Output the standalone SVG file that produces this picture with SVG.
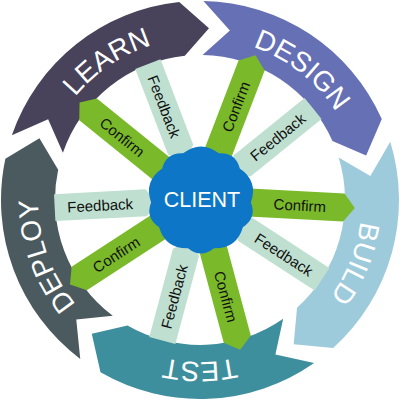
<svg xmlns="http://www.w3.org/2000/svg" width="400" height="401" viewBox="0 0 400 401">
<defs>
<style>
.ring-text{font-family:"Liberation Sans",Arial,sans-serif;font-size:28px;fill:#ffffff;}
.lbl{font-family:"Liberation Sans",Arial,sans-serif;font-size:15px;fill:#111111;text-anchor:middle;}
.confirm{fill:#7ab929;}
.feedback{fill:#bfe0d0;}
</style>
<path id="ringPath" d="M362,200 A162,162 0 1 1 38,200 A162,162 0 1 1 362,200 A162,162 0 1 1 38,200 A162,162 0 1 1 362,200" fill="none"/>
</defs>
<rect width="400" height="401" fill="#ffffff"/>

<g id="learn">
<path d="M11.84,135.21 A199,199 0 0 1 179.20,2.09 L209.00,28.24 L184.84,55.79 A145,145 0 0 0 62.90,152.79 L48.13,119.25 Z" fill="#48435b"/>
<text class="ring-text"><textPath href="#ringPath" startOffset="667.3" text-anchor="middle">LEARN</textPath></text>
</g>
<g id="design">
<path d="M203.47,1.03 A199,199 0 0 1 381.80,119.06 L366.14,155.48 L332.46,141.02 A145,145 0 0 0 202.53,55.02 L229.87,30.61 Z" fill="#6670b5"/>
<text class="ring-text"><textPath href="#ringPath" startOffset="870.8" text-anchor="middle">DESIGN</textPath></text>
</g>
<g id="build">
<path d="M390.30,141.82 A199,199 0 0 1 333.16,347.88 L293.68,344.25 L297.02,307.76 A145,145 0 0 0 338.66,157.61 L370.33,176.06 Z" fill="#9ecbdb"/>
<text class="ring-text"><textPath href="#ringPath" startOffset="1080.1" text-anchor="middle">BUILD</textPath></text>
</g>
<g id="test">
<path d="M314.14,363.01 A199,199 0 0 1 100.50,372.34 L91.76,333.67 L127.50,325.57 A145,145 0 0 0 283.17,318.78 L275.40,354.59 Z" fill="#3e8f9d"/>
<text class="ring-text"><textPath href="#ringPath" startOffset="254.5" text-anchor="middle">TEST</textPath></text>
</g>
<g id="deploy">
<path d="M80.24,358.93 A199,199 0 0 1 5.35,158.63 L39.42,138.36 L58.17,169.85 A145,145 0 0 0 112.74,315.80 L76.27,319.48 Z" fill="#4a5a5f"/>
<text class="ring-text"><textPath href="#ringPath" startOffset="452.4" text-anchor="middle">DEPLOY</textPath></text>
</g>

<g id="connectors">
<g transform="rotate(33 200 200)"><polygon class="feedback" points="242,200 254,186.5 345.5,186.5 345.5,213.5 254,213.5"/><text class="lbl" x="300" y="205.5">Feedback</text></g>
<g transform="rotate(105 200 200)"><polygon class="feedback" points="242,200 254,186.5 345.5,186.5 345.5,213.5 254,213.5"/><text class="lbl" x="300" y="205.5" transform="rotate(180 300 200)">Feedback</text></g>
<g transform="rotate(177 200 200)"><polygon class="feedback" points="242,200 254,186.5 345.5,186.5 345.5,213.5 254,213.5"/><text class="lbl" x="300" y="205.5" transform="rotate(180 300 200)">Feedback</text></g>
<g transform="rotate(249 200 200)"><polygon class="feedback" points="242,200 254,186.5 345.5,186.5 345.5,213.5 254,213.5"/><text class="lbl" x="300" y="205.5" transform="rotate(180 300 200)">Feedback</text></g>
<g transform="rotate(321 200 200)"><polygon class="feedback" points="242,200 254,186.5 345.5,186.5 345.5,213.5 254,213.5"/><text class="lbl" x="300" y="205.5">Feedback</text></g>
<g transform="rotate(3 200 200)"><polygon class="confirm" points="235,186 344,186 355,200 344,214 235,214"/><text class="lbl" x="300" y="205.5">Confirm</text></g>
<g transform="rotate(75 200 200)"><polygon class="confirm" points="235,186 344,186 355,200 344,214 235,214"/><text class="lbl" x="300" y="205.5">Confirm</text></g>
<g transform="rotate(147 200 200)"><polygon class="confirm" points="235,186 344,186 355,200 344,214 235,214"/><text class="lbl" x="300" y="205.5" transform="rotate(180 300 200)">Confirm</text></g>
<g transform="rotate(219 200 200)"><polygon class="confirm" points="235,186 344,186 355,200 344,214 235,214"/><text class="lbl" x="300" y="205.5" transform="rotate(180 300 200)">Confirm</text></g>
<g transform="rotate(291 200 200)"><polygon class="confirm" points="235,186 344,186 355,200 344,214 235,214"/><text class="lbl" x="300" y="205.5">Confirm</text></g>
</g>

<g id="client">
<path transform="translate(201 200) scale(1.03) translate(-201 -200)" d="M249.43,202.54 Q255.40,217.68 241.68,226.42 Q235.50,247.49 213.55,246.85 Q201,257.2 188.45,246.85 Q166.50,247.49 160.32,226.42 Q146.60,217.68 152.57,202.54 Q145.17,181.86 163.31,169.48 Q167.38,153.73 183.62,154.72 Q201,141.3 218.38,154.72 Q234.62,153.73 238.69,169.48 Q256.83,181.86 249.43,202.54 Z" fill="#0e76c6"/>
<text x="202" y="206.5" font-family="Liberation Sans, Arial, sans-serif" font-size="21.5" fill="#ffffff" text-anchor="middle">CLIENT</text>
</g>
</svg>
